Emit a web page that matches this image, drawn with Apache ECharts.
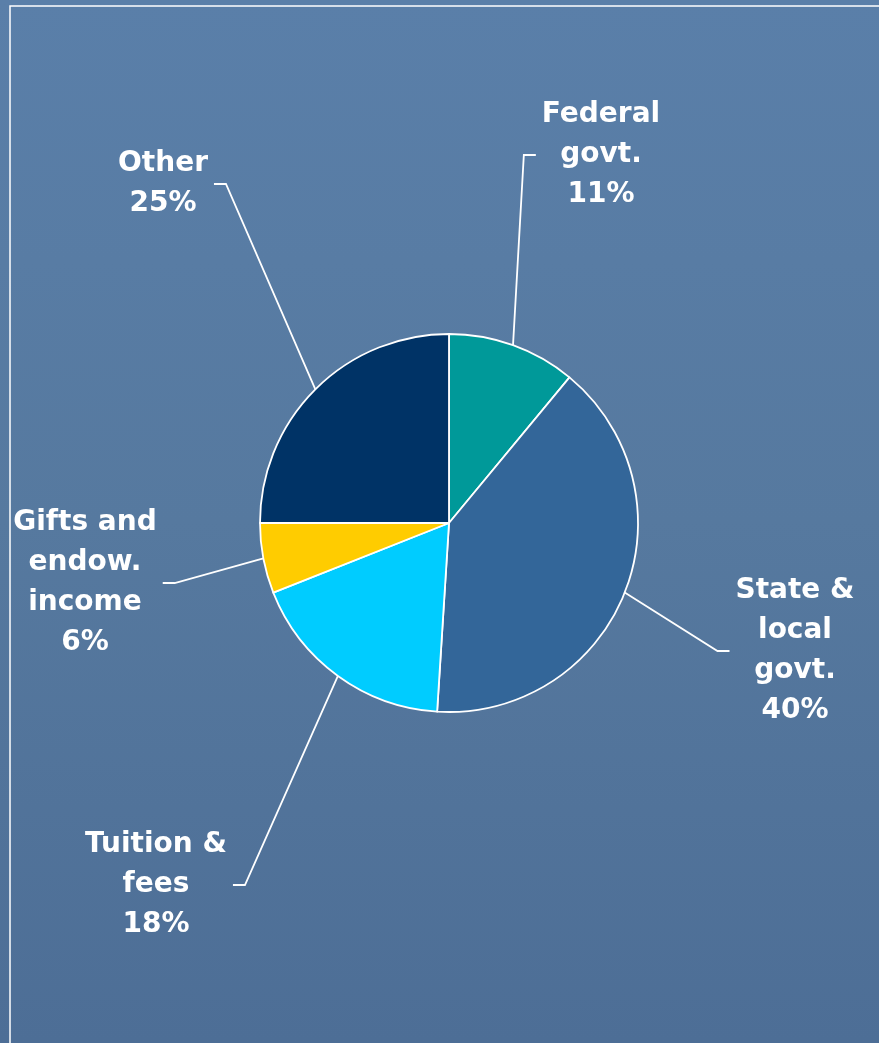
<!DOCTYPE html>
<html><head><meta charset="utf-8">
<script src="https://cdn.jsdelivr.net/npm/echarts@6/dist/echarts.min.js"></script>
<style>html,body{margin:0;padding:0;background:#54779f;} #c{width:879px;height:1043px;}</style>
</head><body><div id="c"></div>
<script>
// ---- data ----
const categories = ['Federal\ngovt.', 'State &\nlocal\ngovt.', 'Tuition &\nfees', 'Gifts and\nendow.\nincome', 'Other'];
const shares = [11, 40, 18, 6, 25];
const colors = ['#009999', '#336699', '#00CCFF', '#FFCC00', '#003366'];

// ---- label layout (centre of each text block, side where the leader attaches) ----
const labelCenters = [[601, 155], [795, 651], [156, 885], [85, 583], [163, 184]];
const labelSide = [-1, -1, 1, 1, 1];

const chart = echarts.init(document.getElementById('c'), null, {renderer: 'canvas'});
chart.setOption({
  animation: false,
  backgroundColor: {
    type: 'linear', x: 0, y: 0, x2: 0, y2: 1,
    colorStops: [
      {offset: 0, color: '#5a7fa9'},
      {offset: 0.5, color: '#56799f'},
      {offset: 1, color: '#4d6e96'}
    ]
  },
  graphic: [{
    type: 'rect',
    shape: {x: 10, y: 6, width: 920, height: 1100},
    style: {fill: 'none', stroke: '#ffffff', lineWidth: 1.5},
    silent: true
  }],
  series: [{
    type: 'pie',
    center: [449, 523],
    radius: 189,
    startAngle: 90,
    clockwise: true,
    avoidLabelOverlap: false,
    itemStyle: {borderColor: '#ffffff', borderWidth: 1.8},
    label: {
      show: true,
      position: 'outside',
      color: '#ffffff',
      fontFamily: 'DejaVu Sans',
      fontWeight: 'bold',
      fontSize: 28,
      lineHeight: 40,
      align: 'center',
      formatter: p => p.name + '\n' + p.value + '%'
    },
    labelLine: {show: true, smooth: false, lineStyle: {color: '#ffffff', width: 1.8}},
    labelLayout: function (p) {
      const i = p.dataIndex;
      const c = labelCenters[i];
      const dir = labelSide[i];
      const w = p.labelRect.width;
      const endX = c[0] + dir * (w / 2 + 6);
      const bendX = endX + dir * 12;
      const start = p.labelLinePoints ? p.labelLinePoints[0] : [bendX, c[1]];
      return {
        x: c[0], y: c[1], align: 'center', verticalAlign: 'middle',
        labelLinePoints: [start, [bendX, c[1]], [endX, c[1]]]
      };
    },
    data: categories.map((n, i) => ({name: n, value: shares[i], itemStyle: {color: colors[i]}}))
  }]
});
</script>
</body></html>
